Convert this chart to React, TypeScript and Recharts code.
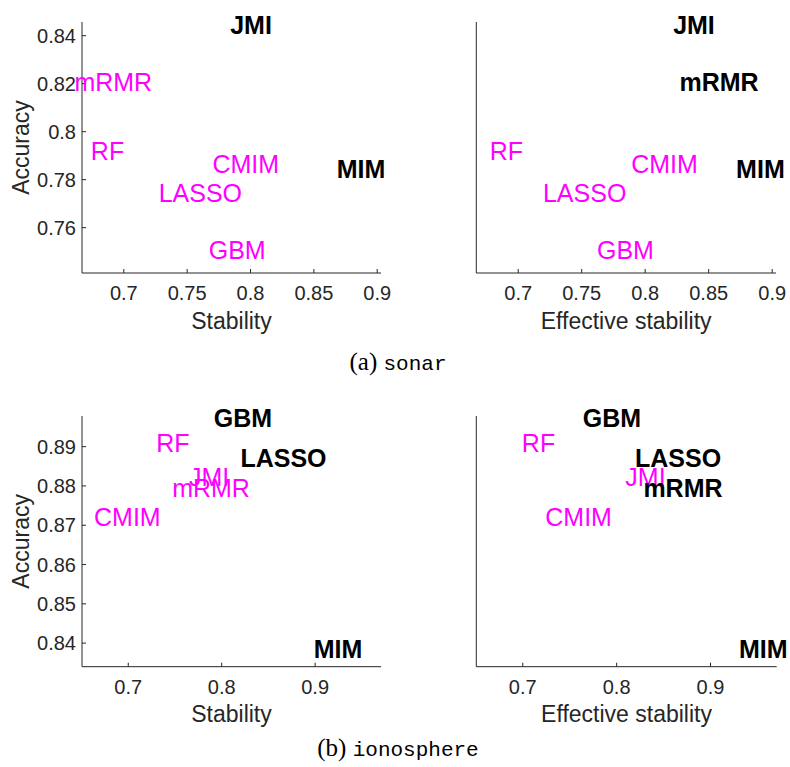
import React from 'react';
import { ScatterChart, Scatter, XAxis, YAxis, Label } from 'recharts';

// ---- sonar ----
const sonarMethods = ['JMI', 'mRMR', 'RF', 'CMIM', 'MIM', 'LASSO', 'GBM'];
const sonarStability = [0.784, 0.661, 0.674, 0.770, 0.868, 0.7275, 0.767];
const sonarEffStability = [0.822, 0.827, 0.6775, 0.789, 0.8716, 0.7195, 0.762];
const sonarAccuracy = [0.8445, 0.8205, 0.7921, 0.7865, 0.7845, 0.7743, 0.7507];
const sonarBoldStability = ['JMI', 'MIM'];
const sonarBoldEff = ['JMI', 'mRMR', 'MIM'];

// ---- ionosphere ----
const ionoMethods = ['GBM', 'RF', 'LASSO', 'JMI', 'mRMR', 'CMIM', 'MIM'];
const ionoStability = [0.7915, 0.730, 0.820, 0.765, 0.747, 0.6634, 0.8984];
const ionoEffStability = [0.764, 0.699, 0.8196, 0.8093, 0.8285, 0.724, 0.9304];
const ionoAccuracy = [0.8972, 0.8909, 0.8872, 0.8822, 0.8794, 0.8722, 0.8384];
const ionoBoldStability = ['GBM', 'LASSO', 'MIM'];
const ionoBoldEff = ['GBM', 'LASSO', 'mRMR', 'MIM'];

// ---- axes ----
const sonarXTicks = [0.7, 0.75, 0.8, 0.85, 0.9];
const sonarYTicks = [0.76, 0.78, 0.8, 0.82, 0.84];
const sonarXDomain = [0.667, 0.903];
const sonarYDomain = [0.7411, 0.8457];
const ionoXTicks = [0.7, 0.8, 0.9];
const ionoYTicks = [0.84, 0.85, 0.86, 0.87, 0.88, 0.89];
const ionoXDomain = [0.6505, 0.9705];
const ionoYDomain = [0.834, 0.8978];

const FONT = '"Liberation Sans", Arial, Helvetica, sans-serif';
const AXIS = '#262626';

const build = (names: string[], xs: number[], ys: number[], bold: string[]) =>
  names.map((n, i) => ({ name: n, x: xs[i], y: ys[i], bold: bold.includes(n) }));

const LabelShape = (props: any) => {
  const { cx, cy, payload } = props;
  const b = payload.bold;
  return (
    <text
      x={cx}
      y={cy}
      dy="0.358em"
      textAnchor="start"
      fontFamily={FONT}
      fontSize={25}
      fontWeight={b ? 'bold' : 'normal'}
      fill={b ? '#000000' : '#FF00FF'}
    >
      {payload.name}
    </text>
  );
};

const xLabelContent = (text: string) => (props: any) => {
  const vb = props.viewBox || {};
  return (
    <text
      x={vb.x + vb.width / 2}
      y={vb.y + 47.5}
      dy="0.358em"
      textAnchor="middle"
      fontFamily={FONT}
      fontSize={23}
      fill={AXIS}
    >
      {text}
    </text>
  );
};

const yLabelContent = (text: string) => (props: any) => {
  const vb = props.viewBox || {};
  const cx = vb.x + 21;
  const cy = vb.y + vb.height / 2;
  return (
    <text
      x={cx}
      y={cy}
      dy="0.358em"
      textAnchor="middle"
      transform={`rotate(-90 ${cx} ${cy})`}
      fontFamily={FONT}
      fontSize={23}
      fill={AXIS}
    >
      {text}
    </text>
  );
};

type PanelProps = {
  left: number;
  top: number;
  width: number;
  height: number;
  margin: { top: number; right: number; bottom: number; left: number };
  yWidth: number;
  data: any[];
  xDomain: number[];
  yDomain: number[];
  xTicks: number[];
  yTicks: number[];
  xLabel: string;
  showY: boolean;
};

const Panel = (p: PanelProps) => (
  <div style={{ position: 'absolute', left: p.left, top: p.top }}>
    <ScatterChart width={p.width} height={p.height} margin={p.margin}>
      <XAxis
        dataKey="x"
        type="number"
        domain={p.xDomain}
        allowDataOverflow
        ticks={p.xTicks}
        interval={0}
        height={60}
        stroke={AXIS}
        tickSize={-4}
        tickMargin={17}
        tick={{ fill: AXIS, fontSize: 20, fontFamily: FONT }}
        tickFormatter={(v: number) => String(v)}
      >
        <Label content={xLabelContent(p.xLabel)} />
      </XAxis>
      {p.showY ? (
        <YAxis
          dataKey="y"
          type="number"
          domain={p.yDomain}
          allowDataOverflow
          ticks={p.yTicks}
          interval={0}
          width={p.yWidth}
          stroke={AXIS}
          tickSize={-4}
          tickMargin={10}
          tick={{ fill: AXIS, fontSize: 20, fontFamily: FONT }}
          tickFormatter={(v: number) => String(v)}
        >
          <Label content={yLabelContent('Accuracy')} />
        </YAxis>
      ) : (
        <YAxis
          dataKey="y"
          type="number"
          domain={p.yDomain}
          allowDataOverflow
          width={p.yWidth}
          stroke={AXIS}
          tick={false}
          tickLine={false}
        />
      )}
      <Scatter data={p.data} isAnimationActive={false} shape={LabelShape} />
    </ScatterChart>
  </div>
);

const captionStyle = (top: number): React.CSSProperties => ({
  position: 'absolute',
  left: 0,
  width: 796,
  top,
  height: 28,
  lineHeight: '28px',
  textAlign: 'center',
  color: '#000',
  whiteSpace: 'pre',
});

export default function App() {
  const sonarS = build(sonarMethods, sonarStability, sonarAccuracy, sonarBoldStability);
  const sonarE = build(sonarMethods, sonarEffStability, sonarAccuracy, sonarBoldEff);
  const ionoS = build(ionoMethods, ionoStability, ionoAccuracy, ionoBoldStability);
  const ionoE = build(ionoMethods, ionoEffStability, ionoAccuracy, ionoBoldEff);

  return (
    <div
      className="rc-noclip"
      style={{ position: 'absolute', left: 0, top: 0, width: 790, height: 767, background: '#ffffff', overflow: 'hidden' }}
    >
      <style>{`.rc-noclip g[clip-path] { clip-path: none !important; } .rc-noclip svg { overflow: visible; }`}</style>
      <Panel
        left={0}
        top={0}
        width={400}
        height={340}
        margin={{ top: 22, right: 19, bottom: 7, left: 0 }}
        yWidth={82}
        data={sonarS}
        xDomain={sonarXDomain}
        yDomain={sonarYDomain}
        xTicks={sonarXTicks}
        yTicks={sonarYTicks}
        xLabel="Stability"
        showY
      />
      <Panel
        left={400}
        top={0}
        width={390}
        height={340}
        margin={{ top: 22, right: 14, bottom: 7, left: 0 }}
        yWidth={76.3}
        data={sonarE}
        xDomain={sonarXDomain}
        yDomain={sonarYDomain}
        xTicks={sonarXTicks}
        yTicks={sonarYTicks}
        xLabel="Effective stability"
        showY={false}
      />
      <div style={captionStyle(347.5)}>
        <span style={{ fontFamily: '"Liberation Serif", "DejaVu Serif", serif', fontSize: 25 }}>(a) </span>
        <span style={{ fontFamily: '"Liberation Mono", "DejaVu Sans Mono", monospace', fontSize: 21 }}>sonar</span>
      </div>
      <Panel
        left={0}
        top={380}
        width={400}
        height={360}
        margin={{ top: 36, right: 19, bottom: 13.3, left: 0 }}
        yWidth={82}
        data={ionoS}
        xDomain={ionoXDomain}
        yDomain={ionoYDomain}
        xTicks={ionoXTicks}
        yTicks={ionoYTicks}
        xLabel="Stability"
        showY
      />
      <Panel
        left={400}
        top={380}
        width={390}
        height={360}
        margin={{ top: 36, right: 13.3, bottom: 13.3, left: 0 }}
        yWidth={76.3}
        data={ionoE}
        xDomain={ionoXDomain}
        yDomain={ionoYDomain}
        xTicks={ionoXTicks}
        yTicks={ionoYTicks}
        xLabel="Effective stability"
        showY={false}
      />
      <div style={captionStyle(734.3)}>
        <span style={{ fontFamily: '"Liberation Serif", "DejaVu Serif", serif', fontSize: 25 }}>(b) </span>
        <span style={{ fontFamily: '"Liberation Mono", "DejaVu Sans Mono", monospace', fontSize: 21 }}>ionosphere</span>
      </div>
    </div>
  );
}
